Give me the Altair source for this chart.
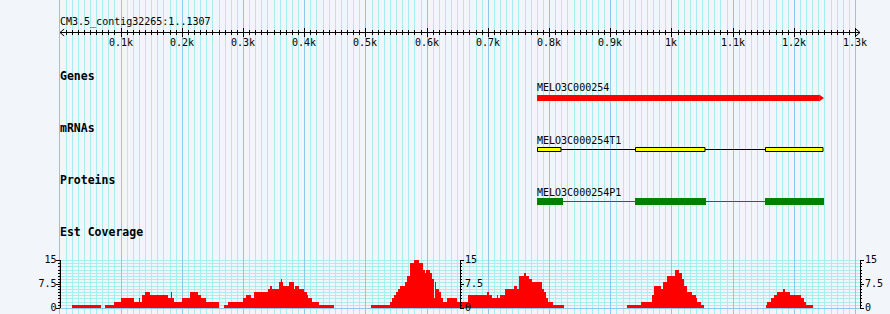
import altair as alt
import pandas as pd

# ---------------- data ----------------
SEQ_TITLE = "CM3.5_contig32265:1..1307"
SEQ_LEN = 1307

ruler_ticks = [100, 200, 300, 400, 500, 600, 700, 800, 900, 1000, 1100, 1200, 1300]
ruler_labels = ["0.1k", "0.2k", "0.3k", "0.4k", "0.5k", "0.6k", "0.7k", "0.8k", "0.9k",
                "1k", "1.1k", "1.2k", "1.3k"]

track_names = ["Genes", "mRNAs", "Proteins", "Est Coverage"]

gene_name = "MELO3C000254"
gene_start = 780
gene_end = 1250

mrna_name = "MELO3C000254T1"
mrna_exon_start = [780, 940, 1152]
mrna_exon_end = [819, 1055, 1248]

protein_name = "MELO3C000254P1"
protein_exon_start = [780, 940, 1152]
protein_exon_end = [823, 1057, 1250]

cov_start = [20, 74, 89, 101, 122, 130, 132, 135, 140, 148, 177, 182, 184, 187, 200, 213, 226, 231, 239,
             269, 275, 300, 305, 313, 318, 341, 344, 347, 359, 362, 364, 365, 375, 383, 385, 391, 400, 405, 406, 413, 424,
             509, 540, 543, 546, 550, 553, 556, 564, 568, 572, 579, 587, 594, 597, 599, 605, 608, 612, 613, 615, 620, 623,
             626, 633, 650, 667, 698, 702, 707, 715, 717, 720, 728, 743, 747, 751, 759, 762, 767, 772, 788, 791, 795, 798, 806,
             927, 950, 968, 971, 981, 983, 986, 992, 1005, 1012, 1017, 1020, 1025, 1033, 1040, 1042, 1048,
             1154, 1156, 1162, 1167, 1172, 1182, 1185, 1193, 1211, 1216, 1220]
cov_end = [68, 89, 101, 122, 130, 132, 135, 140, 148, 177, 182, 184, 187, 200, 213, 226, 231, 239, 261,
           275, 300, 305, 313, 318, 341, 344, 347, 359, 362, 364, 365, 375, 383, 385, 391, 400, 405, 406, 413, 424, 449,
           540, 543, 546, 550, 553, 556, 564, 568, 572, 579, 587, 594, 597, 599, 605, 608, 612, 613, 615, 620, 623, 626,
           633, 650, 667, 698, 702, 707, 715, 717, 720, 728, 743, 747, 751, 759, 762, 767, 772, 788, 791, 795, 798, 806, 824,
           950, 968, 971, 981, 983, 986, 992, 1005, 1012, 1017, 1020, 1025, 1033, 1040, 1042, 1048, 1053,
           1156, 1162, 1167, 1172, 1182, 1185, 1193, 1211, 1216, 1220, 1231]
cov_value = [1, 1, 2, 3, 2, 3, 2, 4, 5, 4, 3, 5, 3, 2, 3, 5, 4, 3, 2,
             1, 2, 3, 4, 3, 5, 6, 7, 6, 8, 9, 8, 7, 8, 6, 7, 6, 5, 4, 3, 2, 1,
             1, 2, 3, 4, 5, 6, 7, 8, 10, 14, 15, 14, 12, 11, 12, 11, 9, 3, 8, 6, 5, 3,
             2, 3, 2, 4, 5, 4, 3, 4, 3, 4, 6, 7, 6, 10, 11, 10, 9, 8, 6, 5, 3, 2, 1,
             1, 2, 4, 7, 7, 6, 8, 10, 12, 11, 9, 7, 5, 4, 3, 2, 1,
             1, 2, 3, 4, 5, 6, 5, 4, 3, 2, 1]

cov_max = 15
cov_axis_ticks = [0, 7.5, 15]
cov_axis_labels = ["0", "7.5", "15"]

# ---------------- style ----------------
BG = "#f2f5fa"
MINOR = "#a6eef2"
MAJOR = "#8cc8ea"
FONT = "DejaVu Sans Mono"
X0, X1 = 60, 860                      # plot pixel extent
PX_PER_BP = (X1 - X0) / SEQ_LEN

xs = alt.Scale(domain=[1, SEQ_LEN + 1], range=[X0, X1], nice=False, zero=False, round=True)
ys = alt.Scale(domain=[0, cov_max], range=[308, 260], nice=False, zero=False, round=True)


def X(f):
    return alt.X(f, type="quantitative", scale=xs, axis=None)


def Y(f):
    return alt.Y(f, type="quantitative", scale=ys, axis=None)


layers = []

# vertical grid
grid = pd.DataFrame({"bp": list(range(0, SEQ_LEN, 10))})
grid["major"] = grid["bp"] % 100 == 0
layers.append(alt.Chart(grid[~grid["major"]]).mark_rule(color=MINOR, strokeWidth=1, xOffset=0.5).encode(
    x=X("bp"), y=alt.value(0), y2=alt.value(314)))

# coverage horizontal grid
hgrid = pd.DataFrame({"v": list(range(0, cov_max + 1))})
layers.append(alt.Chart(hgrid[hgrid.v > 0]).mark_rule(color=MINOR, strokeWidth=1, yOffset=0.5).encode(
    x=alt.value(X0), x2=alt.value(X1), y=Y("v")))
layers.append(alt.Chart(grid[grid["major"]]).mark_rule(color=MAJOR, strokeWidth=1, xOffset=0.5).encode(
    x=X("bp"), y=alt.value(0), y2=alt.value(314)))
layers.append(alt.Chart(hgrid[hgrid.v == 0]).mark_rule(color=MAJOR, strokeWidth=1, yOffset=0.5).encode(
    x=alt.value(X0), x2=alt.value(X1), y=Y("v")))

# ruler
layers.append(alt.Chart(pd.DataFrame({"a": [1], "b": [SEQ_LEN + 1]})).mark_rule(color="black").encode(
    x=X("a"), x2=alt.X2("b"), y=alt.value(32.5)))
minor_t = pd.DataFrame({"bp": [b for b in range(10, SEQ_LEN, 10) if b % 100 != 0]})
layers.append(alt.Chart(minor_t).mark_rule(color="black", xOffset=0.5).encode(
    x=X("bp"), y=alt.value(30), y2=alt.value(35)))
major_t = pd.DataFrame({"bp": ruler_ticks, "lab": ruler_labels})
layers.append(alt.Chart(major_t).mark_rule(color="black", xOffset=0.5).encode(
    x=X("bp"), y=alt.value(28), y2=alt.value(37)))
layers.append(alt.Chart(major_t).mark_text(font=FONT, fontSize=10, align="center", baseline="alphabetic",
                                           color="black").encode(x=X("bp"), y=alt.value(46), text="lab"))
arrows = pd.DataFrame({"bp": [1, SEQ_LEN + 1], "side": ["l", "r"]})
layers.append(alt.Chart(arrows[arrows.side == "l"]).mark_point(
    shape="M1.2,-1L0,0L1.2,1", size=49, filled=False, color="black", strokeWidth=1, opacity=1).encode(
    x=X("bp"), y=alt.value(32.5)))
layers.append(alt.Chart(arrows[arrows.side == "r"]).mark_point(
    shape="M-1.2,-1L0,0L-1.2,1", size=49, filled=False, color="black", strokeWidth=1, opacity=1).encode(
    x=X("bp"), y=alt.value(32.5)))
layers.append(alt.Chart(pd.DataFrame({"t": [SEQ_TITLE]})).mark_text(
    font=FONT, fontSize=10, align="left", baseline="alphabetic", color="black").encode(
    x=alt.value(X0), y=alt.value(25), text="t"))

# track labels
tl = pd.DataFrame({"name": track_names, "yy": [80, 132, 184, 236]})
layers.append(alt.Chart(tl).mark_text(font=FONT, fontSize=11.5, fontWeight="bold", align="left",
                                      baseline="alphabetic", color="black").encode(
    x=alt.value(X0), y=alt.Y("yy:Q", scale=None), text="name"))

# gene
gdf = pd.DataFrame({"s": [gene_start], "e": [gene_end - 5 / PX_PER_BP], "tip": [gene_end], "name": [gene_name]})
layers.append(alt.Chart(gdf).mark_rect(color="#ff0000").encode(
    x=X("s"), x2=alt.X2("e"), y=alt.value(95), y2=alt.value(101)))
layers.append(alt.Chart(gdf).mark_point(shape="M-1.4,-1L0,0L-1.4,1Z", size=49, filled=True,
                                        color="#ff0000", opacity=1, strokeWidth=0).encode(
    x=X("tip"), y=alt.value(98)))
layers.append(alt.Chart(gdf).mark_text(font=FONT, fontSize=10, align="left", baseline="alphabetic",
                                       color="black").encode(x=X("s"), y=alt.value(91), text="name"))

# mRNA
mdf = pd.DataFrame({"s": mrna_exon_start, "e": mrna_exon_end})
layers.append(alt.Chart(pd.DataFrame({"s": [min(mrna_exon_start)], "e": [max(mrna_exon_end)]})).mark_rule(
    color="black").encode(x=X("s"), x2=alt.X2("e"), y=alt.value(149.5)))
layers.append(alt.Chart(mdf).mark_rect(fill="#ffff00", stroke="black", strokeWidth=1, xOffset=0.5).encode(
    x=X("s"), x2=alt.X2("e"), y=alt.value(147.5), y2=alt.value(151.5)))
layers.append(alt.Chart(pd.DataFrame({"s": [mrna_exon_start[0]], "name": [mrna_name]})).mark_text(
    font=FONT, fontSize=10, align="left", baseline="alphabetic", color="black").encode(
    x=X("s"), y=alt.value(144), text="name"))

# protein
pdf = pd.DataFrame({"s": protein_exon_start, "e": protein_exon_end})
layers.append(alt.Chart(pd.DataFrame({"s": [min(protein_exon_start)], "e": [max(protein_exon_end)]})).mark_rule(
    color="#008000").encode(x=X("s"), x2=alt.X2("e"), y=alt.value(201.5)))
layers.append(alt.Chart(pdf).mark_rect(color="#008000").encode(
    x=X("s"), x2=alt.X2("e"), y=alt.value(198), y2=alt.value(205)))
layers.append(alt.Chart(pd.DataFrame({"s": [protein_exon_start[0]], "name": [protein_name]})).mark_text(
    font=FONT, fontSize=10, align="left", baseline="alphabetic", color="black").encode(
    x=X("s"), y=alt.value(196), text="name"))

# coverage
cdf = pd.DataFrame({"s": cov_start, "e": cov_end, "v": cov_value})
cdf["z"] = 0
layers.append(alt.Chart(cdf).mark_rect(color="#ff0000").encode(
    x=X("s"), x2=alt.X2("e"), y=Y("v"), y2=alt.Y2("z")))

# coverage axes (left, middle, right)
minor_v = pd.DataFrame({"v": list(range(0, cov_max + 1))})
maj_v = pd.DataFrame({"v": cov_axis_ticks, "lab": cov_axis_labels})
for px, side in [(X0, -1), ((X0 + X1) / 2, 1), (X1, 1)]:
    layers.append(alt.Chart(pd.DataFrame({"a": [0], "b": [cov_max]})).mark_rule(color="black").encode(
        x=alt.value(px + 0.5), y=Y("a"), y2=alt.Y2("b")))
    layers.append(alt.Chart(minor_v).mark_rule(color="black", yOffset=0.5).encode(
        x=alt.value(px), x2=alt.value(px + 2 * side), y=Y("v")))
    layers.append(alt.Chart(maj_v).mark_rule(color="black", yOffset=0.5).encode(
        x=alt.value(px), x2=alt.value(px + 4 * side), y=Y("v")))
    layers.append(alt.Chart(maj_v).mark_text(font=FONT, fontSize=10, baseline="middle",
                                             align="right" if side < 0 else "left",
                                             color="black").encode(
        x=alt.value(px - 3.5 if side < 0 else px + 5), y=Y("v"), text="lab"))

chart = alt.layer(*layers).properties(
    width=890, height=314, padding=0,
    autosize=alt.AutoSizeParams(type="none"),
    background=BG,
).configure_view(stroke=None)

chart.save("out.html", embed_options={"renderer": "svg", "actions": False})
